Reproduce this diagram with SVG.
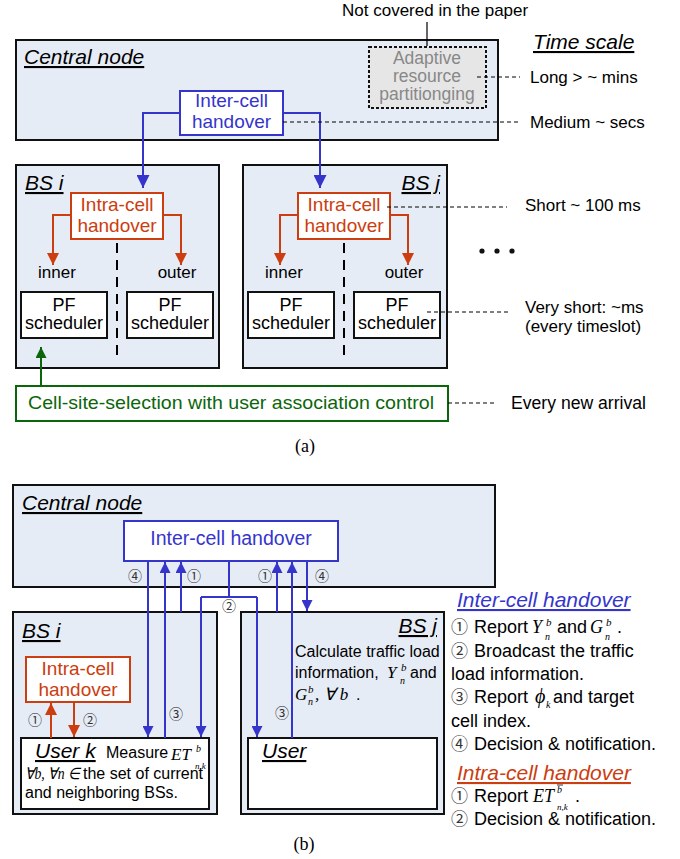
<svg xmlns="http://www.w3.org/2000/svg" width="680" height="859" viewBox="0 0 680 859">
<defs>
<marker id="ab" viewBox="0 0 10 10" refX="10" refY="5" markerWidth="11" markerHeight="11" markerUnits="userSpaceOnUse" orient="auto"><path d="M0,0L10,5L0,10z" fill="#3535cc"/></marker>
<marker id="ab2" viewBox="0 0 10 10" refX="10" refY="5" markerWidth="13" markerHeight="13" markerUnits="userSpaceOnUse" orient="auto"><path d="M0,0L10,5L0,10z" fill="#3535cc"/></marker>
<marker id="ar" viewBox="0 0 10 10" refX="10" refY="5" markerWidth="12" markerHeight="12" markerUnits="userSpaceOnUse" orient="auto"><path d="M0,0L10,5L0,10z" fill="#cc3d0f"/></marker>
<marker id="ag" viewBox="0 0 10 10" refX="10" refY="5" markerWidth="11" markerHeight="11" markerUnits="userSpaceOnUse" orient="auto"><path d="M0,0L10,5L0,10z" fill="#0b660b"/></marker>
</defs>
<style>
text{font-family:"Liberation Sans",Arial,sans-serif;fill:#000}
.bg{fill:#e6ecf6;stroke:#111;stroke-width:2}
.wb{fill:#fff;stroke:#111;stroke-width:2}
.blue{fill:#fff;stroke:#3535cc;stroke-width:2}
.red{fill:#fff;stroke:#cc3d0f;stroke-width:2}
.tb{fill:#3535cc}
.tr{fill:#cc3d0f}
.ttl{font-style:italic;text-decoration:underline;font-size:21px}
.m{font-family:"Liberation Serif",serif;font-style:italic}
.c{font-family:"Noto Sans CJK JP","DejaVu Sans",sans-serif;fill:#333}
.lb{stroke:#3535cc;stroke-width:2;fill:none}
.lr{stroke:#cc3d0f;stroke-width:2;fill:none}
.dash{stroke:#000;stroke-width:1;stroke-dasharray:4 3;fill:none}
.ld{stroke:#000;stroke-width:2;stroke-dasharray:10 7;fill:none}
.gr{fill:#888}
.s17{font-size:17px}
.s18{font-size:18px}
.mid{text-anchor:middle}
</style>

<!-- ===== (a) ===== -->
<g id="a-central">
<rect class="bg" x="16" y="40" width="482" height="100"/>
<text class="ttl" x="24" y="64">Central node</text>
</g>
<g id="a-adaptive">
<rect x="369" y="47" width="117" height="61" fill="#e6e6e6" stroke="#111" stroke-width="2" stroke-dasharray="3 2"/>
<text class="mid gr" x="427" y="64" font-size="17.5">Adaptive<tspan x="427" y="82">resource</tspan><tspan x="427" y="100">partitionging</tspan></text>
</g>
<g id="a-note">
<text x="342" y="16" class="s17">Not covered in the paper</text>
<line x1="427" y1="22" x2="427" y2="46" stroke="#000" stroke-width="1.2"/>
</g>
<g id="a-intercell">
<rect class="blue" x="180" y="91" width="103" height="44"/>
<text class="mid tb" x="231.5" y="107" font-size="19">Inter-cell<tspan x="231.5" y="128">handover</tspan></text>
</g>
<g id="a-timescale">
<text class="ttl" x="533" y="49">Time scale</text>
<text x="530" y="83" class="s17">Long &gt; ~ mins</text>
<text x="530" y="128" class="s17">Medium ~ secs</text>
<text x="525" y="211" class="s17">Short ~ 100 ms</text>
<text x="525" y="313" class="s17">Very short: ~ms<tspan x="525" y="332">(every timeslot)</tspan></text>
<text x="511" y="409" font-size="17.5" textLength="135" lengthAdjust="spacingAndGlyphs">Every new arrival</text>
<circle cx="482" cy="251" r="2.6" fill="#111"/>
<circle cx="497" cy="251" r="2.6" fill="#111"/>
<circle cx="512" cy="251" r="2.6" fill="#111"/>
</g>
<g id="a-bsi">
<rect class="bg" x="16" y="165" width="203" height="203"/>
<text class="ttl" x="25" y="190">BS i</text>
<line class="ld" x1="117" y1="243" x2="117" y2="358"/>
<rect class="red" x="71" y="193" width="92" height="46"/>
<text class="mid tr" x="117" y="211" font-size="19">Intra-cell<tspan x="117" y="232">handover</tspan></text>
<text class="mid s17" x="57" y="278">inner</text>
<text class="mid s17" x="177" y="278">outer</text>
<rect class="wb" x="21" y="292" width="86" height="46"/>
<text class="mid s18" x="64" y="311">PF<tspan x="64" y="329">scheduler</tspan></text>
<rect class="wb" x="127" y="292" width="86" height="46"/>
<text class="mid s18" x="170" y="311">PF<tspan x="170" y="329">scheduler</tspan></text>
</g>
<g id="a-bsj">
<rect class="bg" x="243" y="165" width="204" height="203"/>
<text class="ttl" x="440" y="190" text-anchor="end">BS j</text>
<line class="ld" x1="344" y1="243" x2="344" y2="358"/>
<rect class="red" x="298" y="193" width="92" height="46"/>
<text class="mid tr" x="344" y="211" font-size="19">Intra-cell<tspan x="344" y="232">handover</tspan></text>
<text class="mid s17" x="284" y="278">inner</text>
<text class="mid s17" x="404" y="278">outer</text>
<rect class="wb" x="248" y="292" width="86" height="46"/>
<text class="mid s18" x="291" y="311">PF<tspan x="291" y="329">scheduler</tspan></text>
<rect class="wb" x="354" y="292" width="86" height="46"/>
<text class="mid s18" x="397" y="311">PF<tspan x="397" y="329">scheduler</tspan></text>
</g>
<g id="a-cellsite">
<rect x="16" y="386" width="432" height="35" fill="#fff" stroke="#0b660b" stroke-width="2"/>
<text x="28" y="409" font-size="19" style="fill:#0b660b" textLength="406" lengthAdjust="spacingAndGlyphs">Cell-site-selection with user association control</text>
</g>
<text class="mid" x="305" y="452" style="font-family:'Liberation Serif',serif" font-size="18">(a)</text>

<g id="a-connectors">
<path class="lb" d="M180,113H143V188" marker-end="url(#ab2)"/>
<path class="lb" d="M283,113H320V188" marker-end="url(#ab2)"/>
<path class="lr" d="M71,215H53V265" marker-end="url(#ar)"/>
<path class="lr" d="M163,215H181V265" marker-end="url(#ar)"/>
<path class="lr" d="M298,215H280V265" marker-end="url(#ar)"/>
<path class="lr" d="M390,215H408V265" marker-end="url(#ar)"/>
<path d="M41,386V347" stroke="#0b660b" stroke-width="2" fill="none" marker-end="url(#ag)"/>
<path class="dash" d="M477,77H520"/>
<path class="dash" d="M283,122H520"/>
<path class="dash" d="M387,207H507"/>
<path class="dash" d="M427,312H510"/>
<path class="dash" d="M448,403H494"/>
</g>

<!-- ===== (b) ===== -->
<g id="b-central">
<rect class="bg" x="13" y="485" width="482" height="102"/>
<text class="ttl" x="22" y="510">Central node</text>
</g>
<g id="b-bsi">
<rect class="bg" x="13" y="612" width="204" height="202"/>
<text class="ttl" x="22" y="638">BS i</text>
</g>
<g id="b-bsj">
<rect class="bg" x="241" y="612" width="203" height="202"/>
<text class="ttl" x="437" y="633" text-anchor="end">BS j</text>
<text x="295" y="657" font-size="16">Calculate traffic load</text>
<text x="295" y="678" font-size="16">information,<tspan class="m" x="387" font-size="17">Y</tspan><tspan class="m" x="401" y="671" font-size="11">b</tspan><tspan class="m" x="400" y="684" font-size="10">n</tspan><tspan x="410" y="678">and</tspan></text>
<text class="m" x="295" y="700" font-size="17">G<tspan x="308" y="693" font-size="11">b</tspan><tspan x="308" y="705" font-size="10">n</tspan><tspan x="315" y="700">, ∀ b</tspan><tspan x="356" style="font-style:normal;font-family:'Liberation Sans',sans-serif" font-size="16">.</tspan></text>
</g>
<g id="b-intercell">
<rect class="blue" x="124" y="521" width="214" height="40"/>
<text class="mid tb" x="231" y="545" font-size="19.5">Inter-cell handover</text>
</g>
<g id="b-intracell">
<rect class="red" x="26" y="657" width="104" height="45"/>
<text class="mid tr" x="78" y="675" font-size="19">Intra-cell<tspan x="78" y="696">handover</tspan></text>
</g>
<g id="b-userk">
<rect class="wb" x="21" y="738" width="188" height="71"/>
<text class="ttl" x="35" y="758">User k</text>
<text x="106" y="758" font-size="16">Measure<tspan class="m" x="171" y="760" font-size="17">ET</tspan><tspan class="m" x="196" y="752" font-size="10">b</tspan><tspan class="m" x="195" y="769" font-size="9">n,k</tspan></text>
<text x="25" y="779" font-size="16"><tspan class="m" font-size="16" textLength="55" lengthAdjust="spacingAndGlyphs">∀b, ∀n ∈</tspan><tspan x="83">the set of current</tspan></text>
<text x="25" y="798" font-size="16">and neighboring BSs.</text>
</g>
<g id="b-user">
<rect class="wb" x="248" y="738" width="189" height="71"/>
<text class="ttl" x="262" y="758">User</text>
</g>

<g id="b-connectors">
<path class="lb" d="M148,561V737" marker-end="url(#ab)"/>
<path class="lb" d="M165,738V562" marker-end="url(#ab)"/>
<path class="lb" d="M181,612V562" marker-end="url(#ab)"/>
<path class="lb" d="M229,561V597M201,597H257"/>
<path class="lb" d="M201,597V737" marker-end="url(#ab)"/>
<path class="lb" d="M257,597V737" marker-end="url(#ab)"/>
<path class="lb" d="M277,612V562" marker-end="url(#ab)"/>
<path class="lb" d="M292,738V562" marker-end="url(#ab)"/>
<path class="lb" d="M307,561V611" marker-end="url(#ab)"/>
<path class="lr" d="M51,738V703" marker-end="url(#ar)"/>
<path class="lr" d="M74,702V737" marker-end="url(#ar)"/>
</g>
<g id="b-step-labels">
<text class="c mid" x="135" y="581" font-size="14">④</text>
<text class="c mid" x="194" y="581" font-size="14">①</text>
<text class="c mid" x="265" y="581" font-size="14">①</text>
<text class="c mid" x="322" y="581" font-size="14">④</text>
<text class="c mid" x="229" y="611" font-size="14">②</text>
<text class="c mid" x="176" y="719" font-size="14">③</text>
<text class="c mid" x="282" y="718" font-size="14">③</text>
<text class="c mid" x="35" y="725" font-size="14">①</text>
<text class="c mid" x="90" y="725" font-size="14">②</text>
</g>

<g id="b-legend">
<text class="ttl tb" x="457" y="607">Inter-cell handover</text>
<text x="451" y="633" font-size="18"><tspan class="c" font-size="17">①</tspan><tspan x="474">Report</tspan><tspan class="m" x="532">Y</tspan><tspan class="m" x="546" y="626" font-size="11">b</tspan><tspan class="m" x="545" y="640" font-size="10">n</tspan><tspan x="557" y="633">and</tspan><tspan class="m" x="590">G</tspan><tspan class="m" x="606" y="626" font-size="11">b</tspan><tspan class="m" x="605" y="640" font-size="10">n</tspan><tspan x="617" y="633">.</tspan></text>
<text x="451" y="657" font-size="18"><tspan class="c" font-size="17">②</tspan><tspan x="474">Broadcast the traffic</tspan></text>
<text x="451" y="680" font-size="18">load information.</text>
<text x="451" y="703" font-size="18"><tspan class="c" font-size="17">③</tspan><tspan x="474">Report</tspan><tspan class="m" x="535" font-size="20">ϕ</tspan><tspan class="m" x="546" y="708" font-size="10">k</tspan><tspan x="553" y="703">and target</tspan></text>
<text x="451" y="727" font-size="18">cell index.</text>
<text x="451" y="750" font-size="18"><tspan class="c" font-size="17">④</tspan><tspan x="474">Decision &amp; notification.</tspan></text>
<text class="ttl tr" x="457" y="780">Intra-cell handover</text>
<text x="451" y="802" font-size="18"><tspan class="c" font-size="17">①</tspan><tspan x="474">Report</tspan><tspan class="m" x="533">ET</tspan><tspan class="m" x="557" y="793" font-size="10">b</tspan><tspan class="m" x="557" y="810" font-size="9">n,k</tspan><tspan x="575" y="802">.</tspan></text>
<line x1="557" y1="785" x2="563" y2="785" stroke="#000" stroke-width="0.8"/>
<text x="451" y="825" font-size="18"><tspan class="c" font-size="17">②</tspan><tspan x="474">Decision &amp; notification.</tspan></text>
</g>
<text class="mid" x="304" y="850" style="font-family:'Liberation Serif',serif" font-size="18">(b)</text>
</svg>
